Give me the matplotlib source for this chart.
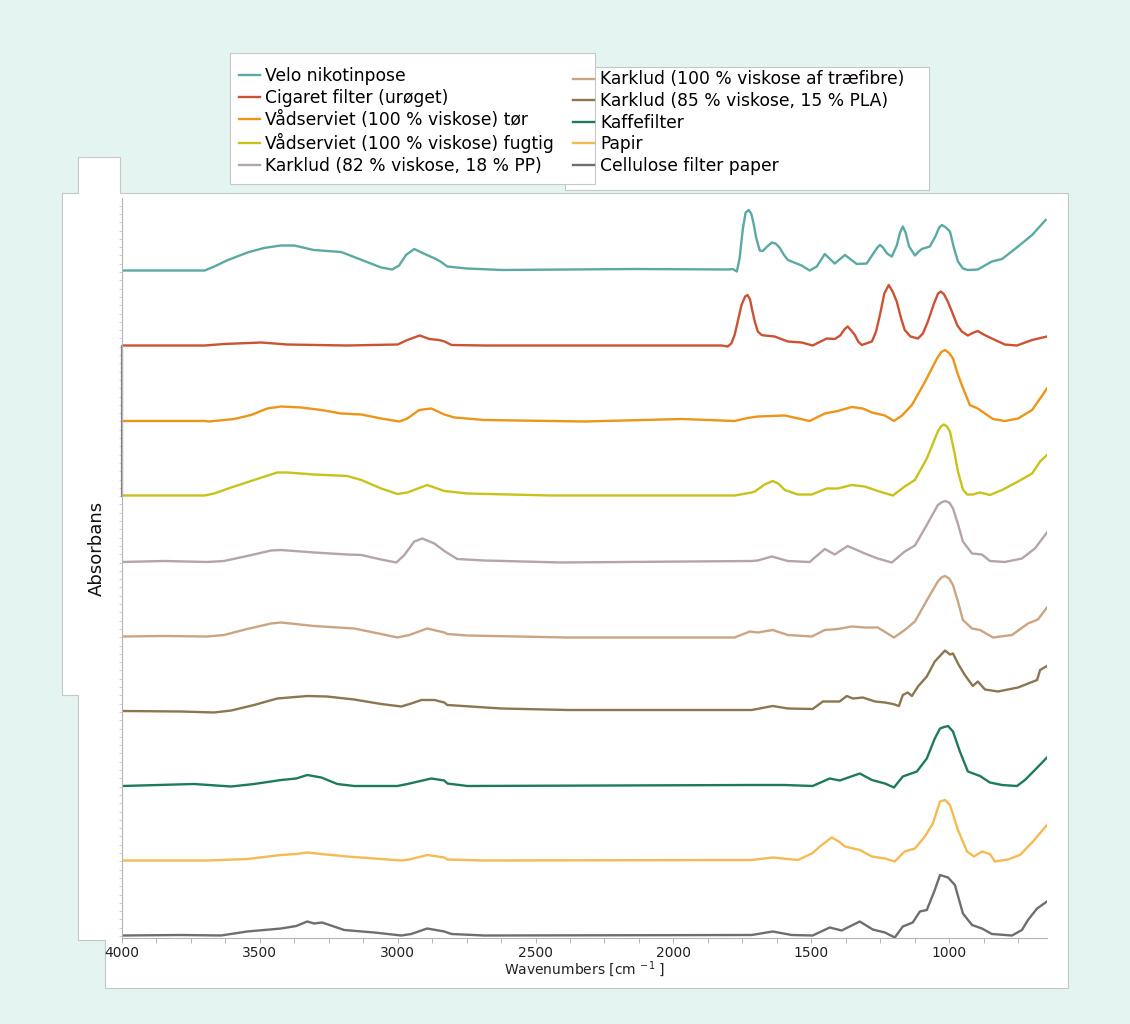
import numpy as np
import matplotlib.pyplot as plt
from matplotlib.patches import Rectangle, Polygon
from matplotlib.ticker import MultipleLocator

# FTIR spectra, absorbance above each trace's own baseline
names = [
    "Velo nikotinpose",
    "Cigaret filter (urøget)",
    "Vådserviet (100 % viskose) tør",
    "Vådserviet (100 % viskose) fugtig",
    "Karklud (82 % viskose, 18 % PP)",
    "Karklud (100 % viskose af træfibre)",
    "Karklud (85 % viskose, 15 % PLA)",
    "Kaffefilter",
    "Papir",
    "Cellulose filter paper",
]
colors = ["#5aa9a2", "#cc5234", "#ee9418", "#c9c21a", "#b5a4a8",
          "#caa584", "#8b7650", "#1e7a5f", "#f5bb52", "#6e6e6e"]

wn_velo = [4000, 3700, 3665, 3620, 3545, 3485, 3425, 3375, 3305, 3205, 3130, 3060, 3020, 2995, 2970,
           2940, 2910, 2865, 2845, 2820, 2750, 2620, 2140, 1800, 1785, 1770, 1760, 1748, 1738, 1727,
           1718, 1710, 1700, 1687, 1676, 1660, 1643, 1630, 1615, 1600, 1585, 1535, 1506, 1480, 1451,
           1415, 1378, 1335, 1299, 1275, 1260, 1251, 1240, 1225, 1208, 1190, 1178, 1168, 1158, 1145,
           1124, 1110, 1099, 1070, 1050, 1036, 1026, 1012, 997, 982, 968, 950, 932, 896, 845, 808,
           750, 699, 650]
a_velo = [0, 0, .04, .10, .18, .225, .25, .25, .205, .185, .105, .03, .01, .05, .155,
          .215, .175, .12, .09, .04, .02, .005, .015, .01, .015, -.01, .12, .42, .58, .605,
          .57, .48, .33, .20, .195, .24, .28, .27, .23, .16, .105, .05, 0, .04, .165,
          .07, .155, .065, .07, .17, .23, .255, .23, .17, .14, .25, .38, .44, .38, .24,
          .15, .19, .215, .24, .34, .43, .455, .43, .39, .22, .09, .02, .005, .01, .09, .115,
          .24, .355, .505]

wn_cig = [4000, 3700, 3630, 3495, 3400, 3185, 3000, 2965, 2920, 2885, 2850, 2830, 2805, 2685, 1825,
          1803, 1790, 1778, 1765, 1753, 1740, 1731, 1722, 1716, 1705, 1694, 1680, 1669, 1633, 1585,
          1535, 1495, 1444, 1415, 1395, 1380, 1368, 1355, 1342, 1330, 1317, 1280, 1265, 1251, 1235,
          1219, 1205, 1190, 1175, 1161, 1140, 1113, 1095, 1077, 1055, 1040, 1030, 1018, 1005, 990,
          970, 954, 932, 915, 896, 875, 845, 798, 754, 699, 645]
a_cig = [0, 0, .015, .03, .01, 0, .01, .055, .10, .065, .055, .04, .005, 0, 0,
         -.01, .02, .105, .26, .405, .49, .505, .46, .375, .24, .14, .105, .10, .09, .04,
         .03, 0, .07, .065, .10, .16, .19, .15, .105, .04, .005, .04, .14, .305, .52,
         .605, .54, .44, .28, .155, .09, .07, .12, .24, .42, .52, .54, .51, .44, .34,
         .20, .14, .10, .125, .145, .11, .07, .01, 0, .055, .09]

wn_tor = [4000, 3700, 3684, 3593, 3532, 3473, 3423, 3350, 3277, 3205, 3132, 3060, 2994, 2965, 2922,
          2878, 2831, 2794, 2686, 2322, 1970, 1778, 1731, 1694, 1596, 1506, 1451, 1404, 1353, 1313,
          1280, 1233, 1200, 1171, 1135, 1088, 1044, 1028, 1015, 1000, 986, 970, 954, 925, 896,
          870, 841, 798, 750, 699, 670, 645]
a_tor = [0, 0, -.005, .02, .06, .125, .145, .135, .11, .075, .065, .025, -.005, .025, .11,
         .125, .065, .035, .01, -.005, .02, 0, .03, .045, .055, 0, .075, .10, .14, .125,
         .085, .055, 0, .055, .16, .39, .625, .69, .71, .68, .625, .48, .36, .16, .125,
         .075, .02, 0, .025, .11, .225, .325]

wn_fug = [4000, 3700, 3666, 3604, 3521, 3437, 3401, 3303, 3183, 3132, 3060, 3001, 2965, 2893, 2831,
          2747, 2442, 1778, 1716, 1705, 1669, 1640, 1620, 1596, 1549, 1498, 1444, 1404, 1353, 1306,
          1259, 1204, 1161, 1124, 1081, 1041, 1030, 1019, 1008, 997, 980, 968, 950, 935, 914,
          888, 852, 808, 750, 699, 670, 645]
a_fug = [0, 0, .02, .08, .155, .23, .23, .21, .195, .155, .07, .015, .03, .105, .045,
         .02, 0, 0, .03, .04, .11, .145, .12, .055, .01, .01, .07, .07, .105, .09,
         .045, 0, .09, .155, .37, .64, .69, .71, .69, .64, .42, .24, .06, .01, .01,
         .03, .005, .055, .14, .22, .34, .405]

wn_k82 = [4000, 3847, 3691, 3630, 3546, 3459, 3423, 3303, 3183, 3132, 3060, 3005, 2976, 2940, 2911,
          2867, 2831, 2784, 2686, 2406, 1716, 1694, 1643, 1585, 1506, 1451, 1415, 1368, 1306, 1259,
          1208, 1161, 1124, 1081, 1041, 1025, 1012, 998, 986, 968, 950, 917, 881, 852, 798,
          736, 689, 645]
a_k82 = [0, .01, 0, .01, .06, .115, .12, .095, .075, .07, .025, -.005, .07, .205, .235,
         .185, .11, .03, .015, -.005, .01, .015, .055, .01, 0, .13, .075, .16, .085, .035,
         -.005, .105, .165, .37, .57, .60, .61, .59, .535, .38, .205, .085, .075, .01, 0,
         .035, .135, .295]

wn_k100 = [4000, 3847, 3691, 3630, 3546, 3459, 3423, 3303, 3158, 3060, 3001, 2958, 2893, 2831, 2820,
           2747, 2384, 1778, 1723, 1694, 1640, 1585, 1498, 1451, 1404, 1353, 1306, 1259, 1200, 1161,
           1124, 1077, 1041, 1028, 1015, 1000, 986, 968, 950, 917, 888, 841, 772, 714, 678, 645]
a_k100 = [0, .005, 0, .015, .075, .13, .14, .105, .08, .025, -.01, .015, .08, .04, .025,
          .01, -.01, -.01, .05, .04, .065, .015, 0, .065, .075, .10, .09, .09, -.01, .065,
          .15, .38, .55, .59, .605, .58, .515, .35, .165, .08, .065, -.01, .015, .13, .17, .29]

wn_k85 = [4000, 3786, 3666, 3604, 3521, 3437, 3328, 3256, 3158, 3060, 2987, 2951, 2914, 2867, 2831,
          2820, 2624, 2384, 1716, 1640, 1585, 1495, 1458, 1397, 1371, 1349, 1313, 1269, 1233, 1204,
          1182, 1168, 1150, 1135, 1113, 1081, 1052, 1030, 1015, 997, 986, 965, 943, 914, 896,
          870, 823, 750, 681, 670, 645]
a_k85 = [0, -.005, -.015, .005, .06, .125, .15, .145, .115, .07, .045, .075, .11, .11, .085,
         .06, .025, .01, .01, .05, .025, .02, .095, .095, .15, .125, .135, .095, .085, .07,
         .05, .16, .185, .15, .245, .345, .495, .56, .605, .565, .575, .46, .36, .25, .295,
         .215, .195, .235, .31, .41, .45]

wn_kaffe = [4000, 3739, 3604, 3521, 3423, 3368, 3328, 3277, 3219, 3158, 3001, 2965, 2878, 2831, 2820,
            2747, 1716, 1596, 1495, 1433, 1397, 1324, 1280, 1233, 1200, 1168, 1117, 1081, 1052, 1033,
            1018, 1004, 986, 961, 932, 888, 852, 808, 754, 725, 689, 645]
a_kaffe = [0, .02, -.005, .02, .06, .075, .11, .085, .02, 0, 0, .02, .075, .055, .025,
           0, .01, .01, 0, .075, .055, .125, .06, .025, -.015, .095, .145, .275, .475, .575,
           .59, .60, .545, .345, .145, .10, .035, .01, 0, .06, .16, .285]

wn_papir = [4000, 3691, 3546, 3423, 3368, 3328, 3277, 3183, 3085, 2987, 2958, 2893, 2831, 2820, 2686,
            1716, 1640, 1549, 1498, 1462, 1426, 1400, 1378, 1324, 1280, 1233, 1197, 1161, 1124, 1088,
            1059, 1033, 1015, 997, 968, 935, 910, 881, 852, 834, 787, 743, 696, 645]
a_papir = [0, 0, .015, .055, .065, .08, .065, .04, .02, 0, .01, .055, .03, .01, 0,
           .005, .03, .005, .07, .155, .23, .19, .14, .105, .04, .02, -.01, .09, .12, .24,
           .37, .59, .605, .555, .305, .09, .04, .09, .065, -.01, .01, .055, .19, .355]

wn_cell = [4000, 3786, 3641, 3546, 3423, 3368, 3328, 3303, 3274, 3194, 3085, 2987, 2951, 2893, 2831,
           2805, 2686, 1716, 1640, 1571, 1495, 1433, 1390, 1324, 1277, 1233, 1197, 1168, 1132, 1106,
           1081, 1052, 1033, 1004, 979, 950, 917, 881, 845, 772, 736, 714, 681, 645]
a_cell = [0, .005, 0, .04, .07, .095, .14, .12, .13, .055, .03, 0, .015, .07, .04,
          .015, 0, .005, .04, .005, 0, .08, .05, .14, .06, .03, -.02, .09, .13, .24,
          .255, .455, .605, .58, .505, .22, .105, .07, .015, 0, .055, .155, .27, .34]

wns = [wn_velo, wn_cig, wn_tor, wn_fug, wn_k82, wn_k100, wn_k85, wn_kaffe, wn_papir, wn_cell]
absb = [a_velo, a_cig, a_tor, a_fug, a_k82, a_k100, a_k85, a_kaffe, a_papir, a_cell]
# vertical stacking offsets
offsets = [6.675, 5.925, 5.17, 4.425, 3.76, 3.015, 2.27, 1.52, 0.775, 0.025]

W, H = 1130, 1024
fig = plt.figure(figsize=(W / 100, H / 100), dpi=100, facecolor="#e4f4f0")


def fx(px):
    return px / W


def fy(py):
    return 1 - py / H


border = "#c4c8c6"
panel = [(78, 157), (120, 157), (120, 193), (1068, 193), (1068, 988), (105, 988), (105, 940),
         (78, 940), (78, 695), (62, 695), (62, 193), (78, 193)]
fig.add_artist(Polygon([(fx(x), fy(y)) for x, y in panel], closed=True, transform=fig.transFigure,
                       fc="white", ec=border, lw=0.8, zorder=-5))
fig.add_artist(Rectangle((fx(565), fy(190)), fx(929) - fx(565), (190 - 67) / H,
                         transform=fig.transFigure, fc="white", ec=border, lw=0.8, zorder=-4))
fig.add_artist(Rectangle((fx(230), fy(184)), fx(595) - fx(230), (184 - 53) / H,
                         transform=fig.transFigure, fc="white", ec=border, lw=0.8, zorder=-3))

ax = fig.add_axes([fx(122), fy(938), fx(1047) - fx(122), (938 - 198) / H])
ax.set_facecolor("none")

lines = []
for wn, a, off, c, name in zip(wns, absb, offsets, colors, names):
    ln, = ax.plot(wn, np.array(a) + off, color=c, lw=1.7, label=name, solid_joinstyle="round")
    lines.append(ln)

# selection marker on the y axis
ax.plot([4000, 4000], [offsets[3], offsets[1]], color="#808080", lw=1.6, clip_on=False)

ax.set_xlim(4000, 645)
ax.set_ylim(0, 7.40)
for s in ["top", "right"]:
    ax.spines[s].set_visible(False)
for s in ["left", "bottom"]:
    ax.spines[s].set_color("#b4b4b4")
    ax.spines[s].set_linewidth(0.8)

ax.set_xticks([4000, 3500, 3000, 2500, 2000, 1500, 1000])
ax.xaxis.set_minor_locator(MultipleLocator(125))
ax.tick_params(axis="x", which="both", length=3.5, width=0.7, color="#b4b4b4",
               labelsize=10, labelcolor="#222222", pad=2.5)
ax.set_yticks(np.arange(0.02, 7.40, 0.083))
ax.set_yticklabels([])
ax.tick_params(axis="y", length=2.5, width=0.6, color="#c8c8c8")

ax.set_xlabel("Wavenumbers [cm $^{-1}$ ]", fontsize=10, color="#222222", labelpad=-1)
fig.text(fx(97), fy(548), "Absorbans", rotation=90, ha="center", va="center",
         fontsize=13, color="#111111")

fs = 12.3
fig.legend(lines[:5], names[:5], loc="upper left", bbox_to_anchor=(fx(239), fy(67)),
           frameon=False, borderpad=0, borderaxespad=0, fontsize=fs,
           handlelength=1.25, handletextpad=0.25, labelspacing=0.23)
fig.legend(lines[5:], names[5:], loc="upper left", bbox_to_anchor=(fx(573), fy(70.5)),
           frameon=False, borderpad=0, borderaxespad=0, fontsize=fs,
           handlelength=1.25, handletextpad=0.35, labelspacing=0.21)

fig.savefig("out.png", dpi=100, facecolor=fig.get_facecolor())
